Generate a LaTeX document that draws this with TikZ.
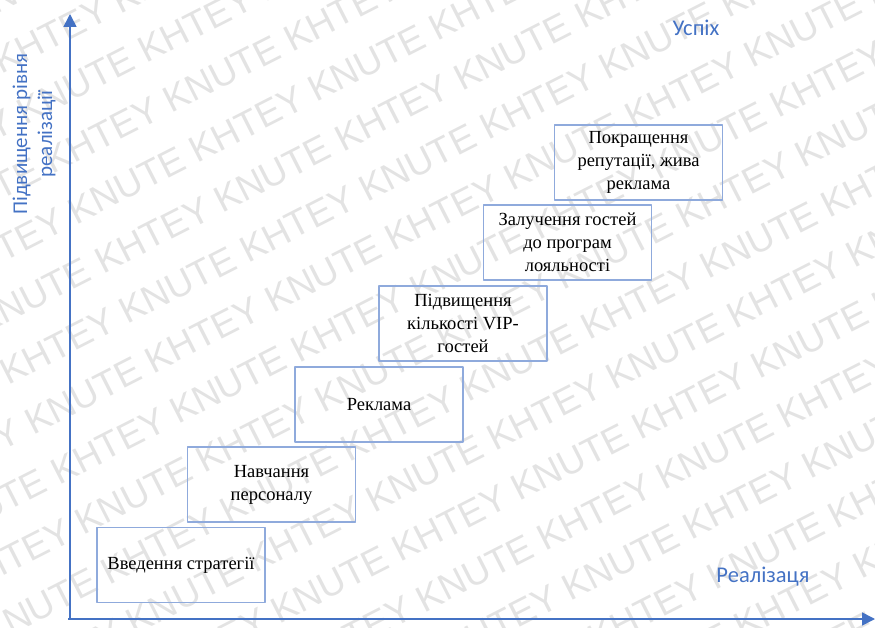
\documentclass[tikz,border=0pt]{standalone}
\usepackage{fontspec}
\setmainfont{Liberation Serif}
\newfontfamily\calibrifont{Carlito}
\newfontfamily\arialfont{Liberation Sans}
\usetikzlibrary{arrows.meta}
\definecolor{axisblue}{RGB}{68,114,196}
\definecolor{boxblue}{RGB}{143,170,220}

\begin{document}
\begin{tikzpicture}[x=1pt, y=1pt, line join=round, >={Triangle[length=13pt,width=13pt]}]
	\tikzset{
		stage/.style={draw=boxblue, line width=1.2pt, minimum width=168pt, minimum height=75pt,
			align=center, inner sep=2pt, font=\fontsize{18.5}{23}\selectfont},
		axislabel/.style={text=axisblue, inner sep=0pt, font=\calibrifont\fontsize{22.5}{25}\selectfont},
		wmark/.style={text=black!11, inner sep=0pt, anchor=west, rotate=27, font=\arialfont\fontsize{37}{37}\selectfont}
	}
	\def\W{875}\def\H{627}
	\useasboundingbox (0,0) rectangle (\W,\H);
	% watermark
	\begin{scope}
		\clip (0,0) rectangle (\W,\H);
		\foreach \i in {-7,...,13}{
			\pgfmathsetmacro\along{mod(135*\i,270)-1350}
			\node[wmark] (wm\i) at ({757-0.454*56*\i+0.891*\along}, {260+0.891*56*\i+0.454*\along})
				{KNUTE KHTEY KNUTE KHTEY KNUTE KHTEY KNUTE KHTEY KNUTE KHTEY KNUTE KHTEY KNUTE KHTEY};
		}
	\end{scope}
	% axes
	\coordinate (O) at (70,8);
	\coordinate (Ytip) at (70,613);
	\coordinate (Xtip) at (875,8);
	\draw[axisblue, line width=1.6pt, ->] ([xshift=-2pt]O) -- (Xtip);
	\draw[axisblue, line width=1.6pt, ->] (O) -- (Ytip);
	\node[axislabel] (success) at (696,599) {Успіх};
	\node[axislabel] (realiz) at (763,50) {Реалізаця};
	\node[axislabel, font=\calibrifont\fontsize{21}{25}\selectfont, rotate=90, align=center] (levelup) at (34,493) {Підвищення рівня\\реалізації};
	% stages
	\node[stage] (s1) at (181,62) {Введення стратегії};
	\node[stage] (s2) at (271.5,142.5) {Навчання\\персоналу};
	\node[stage] (s3) at (379,222.5) {Реклама};
	\node[stage] (s4) at (463,303.5) {Підвищення\\кількості VIP-\\гостей};
	\node[stage] (s5) at (567.5,384.5) {Залучення гостей\\до програм\\лояльності};
	\node[stage] (s6) at (638.5,464.5) {Покращення\\репутації, жива\\реклама};
\end{tikzpicture}
\end{document}
